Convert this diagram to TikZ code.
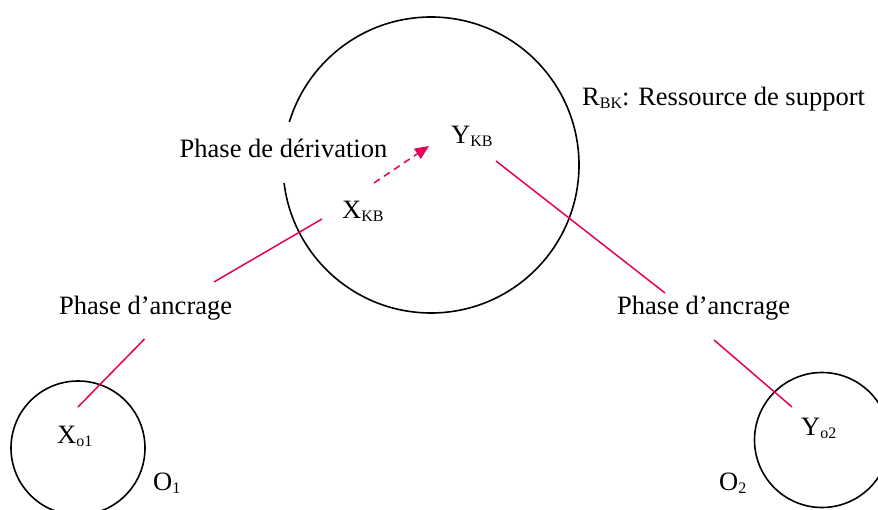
\documentclass[tikz,border=0pt]{standalone}
\usepackage{fontspec}
\setmainfont{Liberation Serif}
\usetikzlibrary{arrows.meta,positioning}
\definecolor{AncrPink}{HTML}{E6005C}
\newcommand{\lowidx}[1]{\raisebox{-3pt}{\fontsize{16}{16}\selectfont #1}}

\begin{document}
\begin{tikzpicture}[x=1pt,y=-1pt, every node/.style={font=\fontsize{26.5}{30}\selectfont,inner sep=0pt},
  ring/.style={draw,circle,line width=1.6pt,inner sep=0pt},
  lnk/.style={AncrPink,line width=1.5pt},
  arr/.style={-{Triangle[length=14pt,width=12pt]},AncrPink,line width=1.5pt,dash pattern=on 7pt off 5pt}]
  \useasboundingbox (0,0) rectangle (878,510);
  \clip (0,0) rectangle (878,510);
  % resources
  \node[ring,minimum size=296pt] (rbk) at (431,165) {};
  \node[ring,minimum size=134pt] (o1) at (78,448) {};
  \node[ring,minimum size=135pt] (o2) at (822,440) {};
  % labels
  \node[anchor=base,fill=white,inner xsep=4pt,inner ysep=5pt,text height=31pt,text depth=20pt] (deriv) at (283.5,158) {Phase de dérivation};
  \node[anchor=base west] (rbklab) at (582,106) {R\lowidx{BK}: Ressource de support};
  \node[anchor=base west] (ykb) at (451,144) {Y\lowidx{KB}};
  \node[anchor=base west] (xkb) at (342,219) {X\lowidx{KB}};
  \node[anchor=base west] (ancL) at (59,315) {Phase d’ancrage};
  \node[anchor=base west] (ancR) at (617,315) {Phase d’ancrage};
  \node[anchor=base west] (xo1) at (57,443) {X\lowidx{o1}};
  \node[anchor=base west] (yo2) at (801,435) {Y\lowidx{o2}};
  \node[anchor=base west] (o1lab) at (153,490) {O\lowidx{1}};
  \node[anchor=base west] (o2lab) at (719,490) {O\lowidx{2}};
  % link ends
  \coordinate (ancLa) at (214,282); \coordinate (xkbL) at (322,219);
  \coordinate (ancLb) at (144.5,339); \coordinate (xo1L) at (78,407);
  \coordinate (ykbL) at (496,161); \coordinate (ancRa) at (665,293);
  \coordinate (ancRb) at (714,340); \coordinate (yo2L) at (792,407);
  \coordinate (xkbA) at (374,183); \coordinate (ykbA) at (429,146);
  \draw[lnk] (ancLa)--(xkbL); \draw[lnk] (ancLb)--(xo1L);
  \draw[lnk] (ykbL)--(ancRa); \draw[lnk] (ancRb)--(yo2L);
  \draw[arr] (xkbA)--(ykbA);
\end{tikzpicture}
\end{document}
